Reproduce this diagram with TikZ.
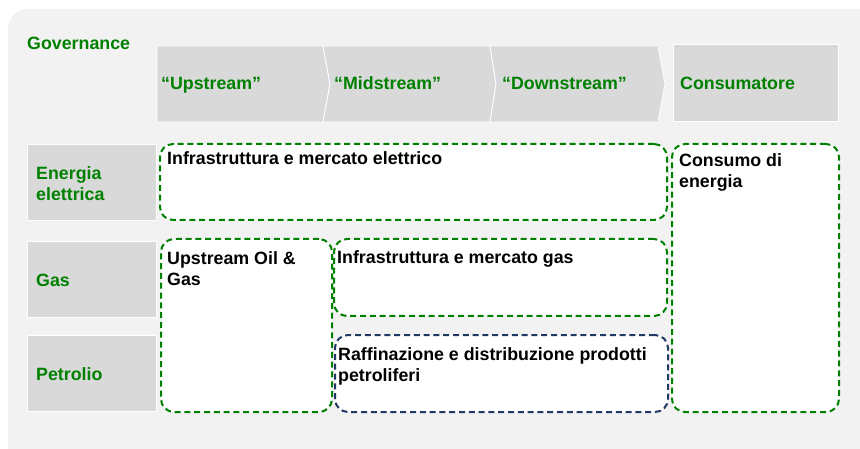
\documentclass[tikz,border=0pt]{standalone}
\usepackage{fontspec}
\setmainfont{Liberation Sans}
\usetikzlibrary{positioning}

\definecolor{govgreen}{RGB}{0,128,0}
\definecolor{oilnavy}{RGB}{31,56,100}
\definecolor{panelgray}{RGB}{242,242,242}
\definecolor{cellgray}{RGB}{217,217,217}

\tikzset{
  greentxt/.style={text=govgreen,font=\bfseries\fontsize{17.8}{21}\selectfont,inner sep=0pt,align=left},
  blacktxt/.style={text=black,font=\bfseries\fontsize{17.8}{21}\selectfont,inner sep=0pt,align=left},
  cell/.style={fill=cellgray,draw=white,line width=0.8pt,anchor=north west,inner sep=0pt,outer sep=0pt},
  dbox/.style={draw=govgreen,dash pattern=on 6pt off 3.8pt,line width=2pt,rounded corners=13pt,
    fill=white,anchor=north west,inner sep=0pt,outer sep=0pt},
  chev/.style={fill=cellgray,draw=white,line width=0.8pt}
}

\begin{document}
\begin{tikzpicture}[x=1pt,y=-1pt]
      \useasboundingbox (0,0) rectangle (860,449);
      \clip (0,0) rectangle (860,449);
      \fill[panelgray,rounded corners=20pt] (8,9) rectangle (880,470);

      % value chain header
      \fill[chev] (157,46) -- (323,46) -- (330,84) -- (323,122) -- (157,122) -- cycle;
      \fill[chev] (323,46) -- (490,46) -- (496,84) -- (490,122) -- (323,122) -- (330,84) -- cycle;
      \fill[chev] (490,46) -- (658,46) -- (665,84) -- (658,122) -- (490,122) -- (496,84) -- cycle;
      \node[cell,minimum width=165pt,minimum height=77pt] (cons) at (673,44) {};

      \node[greentxt,anchor=base west] (gov) at (27,49.3) {Governance};
      \node[greentxt,anchor=base west] (up) at (161,90) {“Upstream”};
      \node[greentxt,anchor=base west] (mid) at (334,90) {“Midstream”};
      \node[greentxt,anchor=base west] (down) at (502,90) {“Downstream”};
      \node[greentxt,right=7pt of cons.west,yshift=-1pt] (conslbl) {Consumatore};

      % rows
      \node[cell,minimum width=129pt,minimum height=76pt] (rowel) at (27,144) {};
      \node[cell,minimum width=129pt,minimum height=76pt] (rowgas) at (27,241) {};
      \node[cell,minimum width=129pt,minimum height=76pt] (rowoil) at (27,335) {};

      \node[greentxt,right=9pt of rowel.west,yshift=-2pt] (el) {Energia\\elettrica};
      \node[greentxt,right=9pt of rowgas.west,yshift=-1pt] (gas) {Gas};
      \node[greentxt,right=9pt of rowoil.west,yshift=-1pt] (oil) {Petrolio};

      % dashed areas
      \node[dbox,minimum width=507pt,minimum height=76pt] (elbox) at (160,144) {};
      \node[dbox,minimum width=171pt,minimum height=173pt] (upbox) at (161,239) {};
      \node[dbox,minimum width=333pt,minimum height=77pt] (gasbox) at (334,239) {};
      \node[dbox,draw=oilnavy,minimum width=333pt,minimum height=77pt] (oilbox) at (335,335) {};
      \node[dbox,minimum width=167pt,minimum height=268pt] (consbox) at (672,144) {};

      \node[blacktxt,below right=7.5pt and 7pt of elbox.north west] (eltxt) {Infrastruttura e mercato elettrico};
      \node[blacktxt,below right=12.5pt and 6pt of upbox.north west] (uptxt) {Upstream Oil \&\\Gas};
      \node[blacktxt,below right=11pt and 3pt of gasbox.north west] (gastxt) {Infrastruttura e mercato gas};
      \node[blacktxt,below right=12pt and 3pt of oilbox.north west] (oiltxt) {Raffinazione e distribuzione prodotti\\petroliferi};
      \node[blacktxt,below right=9pt and 7pt of consbox.north west] (constxt) {Consumo di\\energia};
    \end{tikzpicture}
\end{document}
